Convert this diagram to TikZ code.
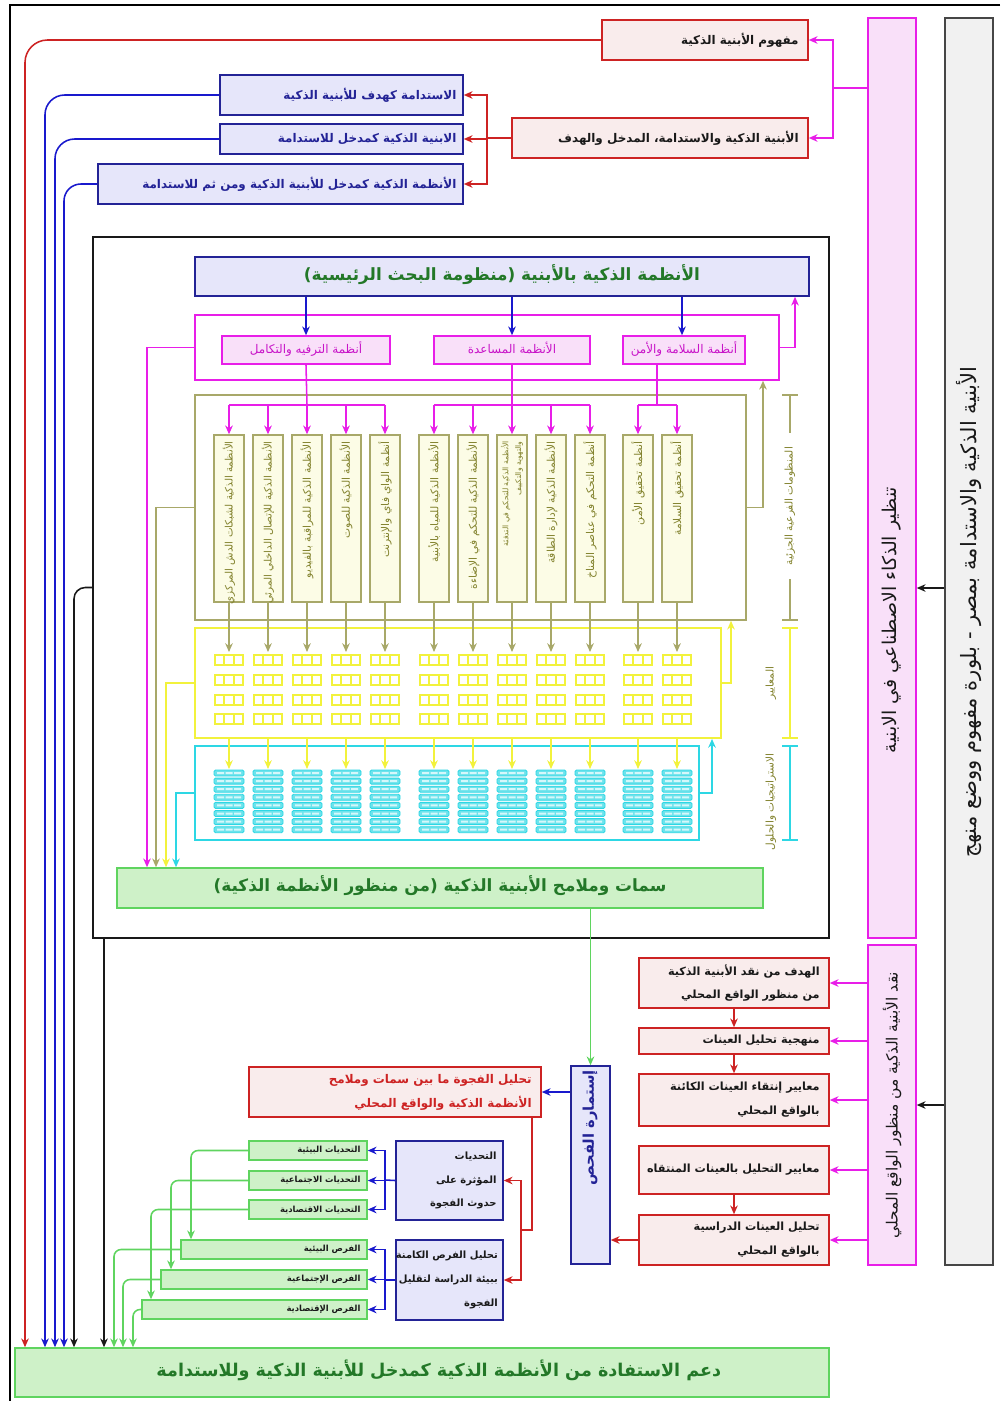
\documentclass[tikz,border=0pt]{standalone}
\usepackage{fontspec}
\usepackage{tikz}
\usetikzlibrary{arrows.meta,positioning,calc,fit}
\newfontfamily\arfont[Script=Arabic]{DejaVu Sans}
\TeXXeTstate=1
\newcommand{\AR}[1]{\beginR #1\endR}
\definecolor{ink}{RGB}{25,25,25}
\definecolor{crimson}{RGB}{205,35,35}
\definecolor{rosefill}{RGB}{249,236,236}
\definecolor{navy}{RGB}{35,35,150}
\definecolor{wire}{RGB}{25,25,205}
\definecolor{lavender}{RGB}{230,230,250}
\definecolor{mag}{RGB}{232,30,232}
\definecolor{magtext}{RGB}{200,20,200}
\definecolor{magfill}{RGB}{249,224,249}
\definecolor{oliv}{RGB}{168,168,105}
\definecolor{olivtext}{RGB}{130,130,45}
\definecolor{colfill}{RGB}{252,252,230}
\definecolor{yel}{RGB}{242,242,60}
\definecolor{cya}{RGB}{45,215,228}
\definecolor{grn}{RGB}{95,212,95}
\definecolor{grnfill}{RGB}{206,241,200}
\definecolor{grntext}{RGB}{35,120,40}
\definecolor{greyfill}{RGB}{241,241,241}
\definecolor{greyline}{RGB}{70,70,70}
\tikzset{
  box/.style={inner sep=0pt,line width=1.1pt},
  redbox/.style={box,draw=crimson,fill=rosefill},
  bluebox/.style={box,draw=navy,fill=lavender},
  magbox/.style={box,draw=mag,fill=magfill},
  grnbox/.style={box,draw=grn,fill=grnfill},
  colbox/.style={box,draw=oliv,fill=colfill,line width=1pt},
  ctxt/.style={inner sep=0pt,text height=0.75em,text depth=0.25em},
  rtxt/.style={anchor=east,align=right,inner sep=0pt,text=ink,
    font=\arfont\bfseries\fontsize{8.5}{17}\selectfont},
  vtxt/.style={rotate=90,inner sep=0pt,text=ink},
  coltxt/.style={vtxt,anchor=east,align=right,text=olivtext},
  arr/.style={-{Stealth[length=2.2mm,width=1.9mm]},line width=1.1pt},
  redarr/.style={arr,crimson},
  bluearr/.style={arr,wire},
  magarr/.style={arr,mag},
  grnarr/.style={arr,grn},
  blkarr/.style={arr,ink},
  olivarr/.style={arr,oliv},
  yelarr/.style={arr,yel},
  cyaarr/.style={arr,cya},
  link/.style={line width=1.1pt},
  yelcell/.style={draw=yel,fill=white,line width=1.2pt},
  cyacell/.style={draw=cya,fill=cya!70,line width=0.6pt},
}
\begin{document}
\begin{tikzpicture}[x=0.025cm,y=-0.025cm]
\useasboundingbox (0,0) rectangle (1000,1401);
\draw[line width=1.2pt] (1000,5) -- (10,5) -- (10,1401);

% right-hand bars
\node[box,draw=greyline,fill=greyfill,fit={(945,18)(993,1265)}] (method) {};
\node[vtxt,font=\arfont\fontsize{15}{17}\selectfont] (methodtxt) at (969,612)
  {\AR{الأبنية الذكية والاستدامة بمصر - بلورة مفهوم ووضع منهج}};
\node[magbox,fit={(868,18)(916,938)}] (ai) {};
\node[vtxt,font=\arfont\fontsize{13.5}{15}\selectfont] (aitxt) at (892,620)
  {\AR{تنظير الذكاء الاصطناعي في الابنية}};
\node[magbox,fit={(868,945)(916,1265)}] (critique) {};
\node[vtxt,font=\arfont\fontsize{11}{13}\selectfont] (critiquetxt) at (892,1105)
  {\AR{نقد الأبنية الذكية من منظور الواقع المحلي}};
\draw[blkarr] (method.west |- 0,588) -- (ai.east |- 0,588);
\draw[blkarr] (method.west |- critique.east) -- (critique.east);

% top boxes
\node[redbox,fit={(602,20)(808,60)}] (concept) {};
\node[rtxt] (concepttxt) at ([xshift=-7pt]concept.east) {\AR{مفهوم الأبنية الذكية}};
\node[redbox,fit={(512,118)(808,158)}] (entry) {};
\node[rtxt] (entrytxt) at ([xshift=-7pt]entry.east) {\AR{الأبنية الذكية والاستدامة، المدخل والهدف}};
\node[bluebox,fit={(220,75)(463,115)}] (goal) {};
\node[rtxt,text=navy] (goaltxt) at ([xshift=-5pt]goal.east) {\AR{الاستدامة كهدف للأبنية الذكية}};
\node[bluebox,fit={(220,124)(463,154)}] (means) {};
\node[rtxt,text=navy] (meanstxt) at ([xshift=-5pt]means.east) {\AR{الابنية الذكية كمدخل للاستدامة}};
\node[bluebox,fit={(98,164)(463,204)}] (sysmeans) {};
\node[rtxt,text=navy] (sysmeanstxt) at ([xshift=-5pt]sysmeans.east) {\AR{الأنظمة الذكية كمدخل للأبنية الذكية ومن ثم للاستدامة}};

\coordinate (aisplit) at (833,88);
\draw[link,mag] (ai.west |- aisplit) -- (aisplit);
\draw[magarr] (aisplit) |- (concept.east);
\draw[magarr] (aisplit) |- (entry.east);
\coordinate (entrysplit) at (487,138);
\draw[link,crimson] (entry.west) -- (entrysplit);
\draw[redarr] (entrysplit) |- (goal.east);
\draw[redarr] (entrysplit) |- (means.east);
\draw[redarr] (entrysplit) |- (sysmeans.east);

% main research system
\node[box,draw=ink,fit={(93,237)(829,938)}] (main) {};
\node[bluebox,fit={(195,257)(809,296)}] (header) {};
\node[ctxt,text=grntext,font=\arfont\bfseries\fontsize{12}{14}\selectfont] (headertxt) at (header.center)
  {\AR{الأنظمة الذكية بالأبنية (منظومة البحث الرئيسية)}};
\node[box,draw=mag,fill=white,fit={(195,315)(779,380)}] (subsys) {};
\node[magbox,fit={(222,336)(390,364)}] (sub1) {};
\node[magbox,fit={(434,336)(590,364)}] (sub2) {};
\node[magbox,fit={(623,336)(745,364)}] (sub3) {};
\node[ctxt,text=magtext,font=\arfont\fontsize{8.5}{10}\selectfont] (sub1txt) at (sub1.center) {\AR{أنظمة الترفيه والتكامل}};
\node[ctxt,text=magtext,font=\arfont\fontsize{8.5}{10}\selectfont] (sub2txt) at (sub2.center) {\AR{الأنظمة المساعدة}};
\node[ctxt,text=magtext,font=\arfont\fontsize{8.5}{10}\selectfont] (sub3txt) at (sub3.center) {\AR{أنظمة السلامة والأمن}};
\draw[bluearr] (header.south -| sub1.north) -- (sub1.north);
\draw[bluearr] (header.south -| sub2.north) -- (sub2.north);
\draw[bluearr] (header.south -| 682,0) -- (sub3.north -| 682,0);
\draw[magarr] (subsys.east) -| (795,0 |- header.south);

\node[box,draw=oliv,fill=white,fit={(195,395)(746,620)}] (olivebox) {};
\node[box,draw=yel,fill=white,line width=1.3pt,fit={(195,628)(721,738)}] (crit) {};
\node[box,draw=cya,fill=white,line width=1.3pt,fit={(195,746)(699,840)}] (strat) {};

\foreach \cx/\cs/\ctext [count=\i] in {
  229/7.3/{\AR{الأنظمة الذكية لشبكات الدش المركزي}},
  268/7.3/{\AR{الأنظمة الذكية للإتصال الداخلي المرئي}},
  307/7.6/{\AR{الأنظمة الذكية للمراقبة بالفيديو}},
  346/7.6/{\AR{الأنظمة الذكية للصوت}},
  385/7.6/{\AR{أنظمة الواي فاي والإنترنت}},
  434/7.6/{\AR{الأنظمة الذكية للمياه بالأبنية}},
  473/7.6/{\AR{الأنظمة الذكية للتحكم في الإضاءة}},
  512/5.5/{\AR{الأنظمة الذكية للتحكم في التدفئة}\\\AR{والتهوية والتكييف}},
  551/7.6/{\AR{الأنظمة الذكية لإدارة الطاقة}},
  590/7.6/{\AR{أنظمة التحكم في عناصر المناخ}},
  638/7.6/{\AR{أنظمة تحقيق الأمن}},
  677/7.6/{\AR{أنظمة تحقيق السلامة}}}{
  \node[colbox,fit={(\cx-15,435)(\cx+15,602)}] (col\i) {};
  \node[coltxt,font=\arfont\fontsize{\cs}{9}\selectfont] (coltxt\i) at (\cx,441) {\ctext};
  \draw[olivarr] (col\i.south) -- (\cx,652);
  \foreach \ry in {660,680,700,719}
    \draw[yelcell] (\cx-14,\ry-5) rectangle (\cx+14,\ry+5)
      (\cx-4.67,\ry-5) -- (\cx-4.67,\ry+5) (\cx+4.67,\ry-5) -- (\cx+4.67,\ry+5);
  \draw[yelarr] (\cx,0 |- crit.south) -- (\cx,769);
  \foreach \k [evaluate=\k as \cy using 773+8.1*\k] in {0,...,7}{
    \draw[cyacell,rounded corners=1pt] (\cx-15,\cy-3) rectangle (\cx+15,\cy+3);
    \fill[cya!20] (\cx-12,\cy-1) rectangle (\cx-5,\cy+1) (\cx-3.5,\cy-1) rectangle (\cx+3.5,\cy+1)
      (\cx+5,\cy-1) rectangle (\cx+12,\cy+1);
  }
}

\draw[link,mag] (sub1.south) -- (col3.north |- 0,405);
\draw[link,mag] (col1.north |- 0,405) -- (col5.north |- 0,405);
\draw[link,mag] (sub2.south) -- (col8.north |- 0,405);
\draw[link,mag] (col6.north |- 0,405) -- (col10.north |- 0,405);
\draw[link,mag] (sub3.south -| 657,0) -- (657,405);
\draw[link,mag] (col11.north |- 0,405) -- (col12.north |- 0,405);
\foreach \i in {1,...,12}
  \draw[magarr] (col\i.north |- 0,405) -- (col\i.north);

\draw[olivarr] (olivebox.east) -| (763,0 |- subsys.south);
\draw[yelarr] (crit.east) -| (731,0 |- olivebox.south);
\draw[cyaarr] (strat.east) -| (712,0 |- crit.south);

% layer brackets
\draw[oliv,line width=0.9pt] (782,395) -- (798,395) (790,395) -- (790,433)
  (790,579) -- (790,620) (782,620) -- (798,620);
\node[vtxt,text=olivtext,font=\arfont\fontsize{7.5}{9}\selectfont] (sublabel) at (790,506)
  {\AR{المنظومات الفرعية الجزئية}};
\draw[yel,line width=1.2pt] (782,628) -- (798,628) (790,628) -- (790,738) (782,738) -- (798,738);
\node[vtxt,text=olivtext,font=\arfont\fontsize{7.5}{9}\selectfont] (critlabel) at (771,683)
  {\AR{المعايير}};
\draw[cya,line width=1.2pt] (782,746) -- (798,746) (790,746) -- (790,840) (782,840) -- (798,840);
\node[vtxt,text=olivtext,font=\arfont\fontsize{7.5}{9}\selectfont] (stratlabel) at (771,802)
  {\AR{الاستراتيجيات والحلول}};

\node[grnbox,fit={(117,868)(763,908)}] (traits) {};
\node[ctxt,text=grntext,font=\arfont\bfseries\fontsize{12}{14}\selectfont] (traitstxt) at (traits.center)
  {\AR{سمات وملامح الأبنية الذكية (من منظور الأنظمة الذكية)}};
\draw[magarr] (subsys.west) -| (147,0 |- traits.north);
\draw[olivarr] (olivebox.west) -| (156,0 |- traits.north);
\draw[yelarr] (crit.west) -| (166,0 |- traits.north);
\draw[cyaarr] (strat.west) -| (176,0 |- traits.north);

% local critique
\tikzset{rtxt/.append style={font=\arfont\bfseries\fontsize{8}{17}\selectfont}}
\node[redbox,fit={(639,958)(829,1008)}] (r1) {};
\node[rtxt] (r1txt) at ([xshift=-7pt]r1.east) {\AR{الهدف من نقد الأبنية الذكية}\\\AR{من منظور الواقع المحلي}};
\node[redbox,fit={(639,1028)(829,1054)}] (r2) {};
\node[rtxt] (r2txt) at ([xshift=-7pt]r2.east) {\AR{منهجية تحليل العينات}};
\node[redbox,fit={(639,1074)(829,1126)}] (r3) {};
\node[rtxt] (r3txt) at ([xshift=-7pt]r3.east) {\AR{معايير إنتقاء العينات الكائنة}\\\AR{بالواقع المحلي}};
\node[redbox,fit={(639,1146)(829,1194)}] (r4) {};
\node[rtxt] (r4txt) at ([xshift=-7pt]r4.east) {\AR{معايير التحليل بالعينات المنتقاه}};
\node[redbox,fit={(639,1215)(829,1265)}] (r5) {};
\node[rtxt] (r5txt) at ([xshift=-7pt]r5.east) {\AR{تحليل العينات الدراسية}\\\AR{بالواقع المحلي}};
\foreach \r in {r1,r2,r3,r4,r5}
  \draw[magarr] (critique.west |- \r.east) -- (\r.east);
\draw[redarr] (r1.south) -- (r2.north);
\draw[redarr] (r2.south) -- (r3.north);
\draw[redarr] (r4.south) -- (r5.north);

\node[bluebox,fit={(571,1066)(610,1264)}] (form) {};
\node[vtxt,text=navy,font=\arfont\bfseries\fontsize{10.5}{12}\selectfont] (formtxt) at (590,1128)
  {\AR{إستمارة الفحص}};
\draw[grnarr] (traits.south -| form.north) -- (form.north);
\draw[redarr] (r5.west) -- (form.east |- r5.west);

\node[redbox,fit={(249,1067)(541,1117)}] (gap) {};
\node[rtxt,text=crimson,font=\arfont\bfseries\fontsize{8.5}{17}\selectfont] (gaptxt) at ([xshift=-7pt]gap.east)
  {\AR{تحليل الفجوة ما بين سمات وملامح}\\\AR{الأنظمة الذكية والواقع المحلي}};
\draw[bluearr] (form.west |- gap.east) -- (gap.east);

\node[bluebox,fit={(396,1141)(503,1220)}] (chal) {};
\node[rtxt,font=\arfont\bfseries\fontsize{7.1}{17}\selectfont] (chaltxt) at ([xshift=-5pt]chal.east)
  {\AR{التحديات}\\\AR{المؤثرة على}\\\AR{حدوث الفجوة}};
\node[bluebox,fit={(396,1240)(503,1320)}] (opp) {};
\node[rtxt,font=\arfont\bfseries\fontsize{7.1}{17}\selectfont] (opptxt) at ([xshift=-4pt]opp.east)
  {\AR{تحليل الفرص الكامنة}\\\AR{ببيئة الدراسة لتقليل}\\\AR{الفجوة}};
\coordinate (gapsplit) at (521,1230);
\draw[link,crimson] (gap.south -| 532,0) |- (gapsplit);
\draw[redarr] (gapsplit) |- (chal.east);
\draw[redarr] (gapsplit) |- (opp.east);

\tikzset{rtxt/.append style={font=\arfont\bfseries\fontsize{6}{7}\selectfont}}
\node[grnbox,fit={(249,1141)(367,1160)}] (c1) {};
\node[rtxt] (c1txt) at ([xshift=-5pt]c1.east) {\AR{التحديات البيئية}};
\node[grnbox,fit={(249,1171)(367,1190)}] (c2) {};
\node[rtxt] (c2txt) at ([xshift=-5pt]c2.east) {\AR{التحديات الاجتماعية}};
\node[grnbox,fit={(249,1200)(367,1219)}] (c3) {};
\node[rtxt] (c3txt) at ([xshift=-5pt]c3.east) {\AR{التحديات الاقتصادية}};
\node[grnbox,fit={(181,1240)(367,1259)}] (o1) {};
\node[rtxt] (o1txt) at ([xshift=-5pt]o1.east) {\AR{الفرص البيئية}};
\node[grnbox,fit={(161,1270)(367,1289)}] (o2) {};
\node[rtxt] (o2txt) at ([xshift=-5pt]o2.east) {\AR{الفرص الإجتماعية}};
\node[grnbox,fit={(142,1300)(367,1319)}] (o3) {};
\node[rtxt] (o3txt) at ([xshift=-5pt]o3.east) {\AR{الفرص الإقتصادية}};

\coordinate (chalsplit) at (385,1180);
\draw[link,wire] (chal.west) -- (chalsplit);
\foreach \c in {c1,c2,c3} \draw[bluearr] (chalsplit) |- (\c.east);
\coordinate (oppsplit) at (385,1280);
\draw[link,wire] (opp.west) -- (oppsplit);
\foreach \o in {o1,o2,o3} \draw[bluearr] (oppsplit) |- (\o.east);

\draw[grnarr,rounded corners=5pt] (c1.west) -| (191,0 |- o1.north);
\draw[grnarr,rounded corners=5pt] (c2.west) -| (171,0 |- o2.north);
\draw[grnarr,rounded corners=5pt] (c3.west) -| (151,0 |- o3.north);

% support bar and long return lines
\node[grnbox,fit={(15,1348)(829,1397)}] (support) {};
\node[ctxt,text=grntext,font=\arfont\bfseries\fontsize{12.5}{15}\selectfont] (supporttxt) at ([xshift=12pt]support.center)
  {\AR{دعم الاستفادة من الأنظمة الذكية كمدخل للأبنية الذكية وللاستدامة}};
\draw[grnarr,rounded corners=5pt] (o1.west) -| (114,0 |- support.north);
\draw[grnarr,rounded corners=5pt] (o2.west) -| (123,0 |- support.north);
\draw[grnarr,rounded corners=5pt] (o3.west) -| (133,0 |- support.north);
\draw[redarr,rounded corners=16pt] (concept.west) -| (25,0 |- support.north);
\draw[bluearr,rounded corners=14pt] (goal.west) -| (45,0 |- support.north);
\draw[bluearr,rounded corners=14pt] (means.west) -| (55,0 |- support.north);
\draw[bluearr,rounded corners=12pt] (sysmeans.west) -| (64,0 |- support.north);
\draw[blkarr,rounded corners=8pt] (main.west) -| (74,0 |- support.north);
\draw[blkarr] (main.south -| 104,0) -- (104,0 |- support.north);
\end{tikzpicture}
\end{document}
